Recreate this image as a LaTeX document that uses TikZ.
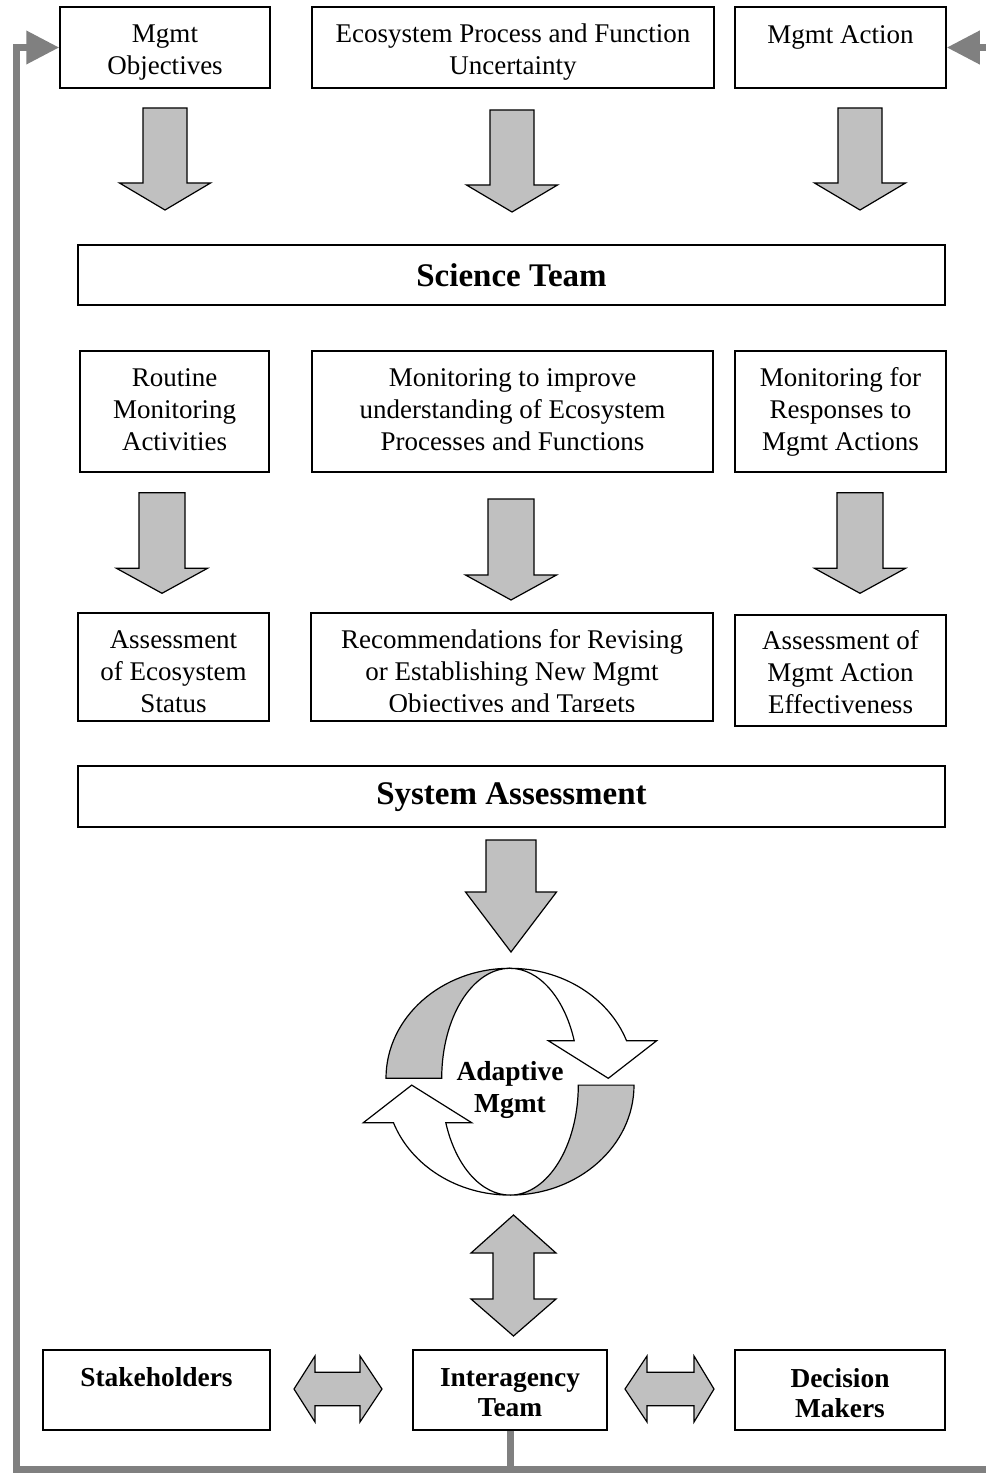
\documentclass[tikz,border=0pt]{standalone}
\usepackage{fontspec}
\setmainfont{Liberation Serif}
\usetikzlibrary{arrows.meta}
\definecolor{arrowfill}{HTML}{C0C0C0}
\definecolor{fbgray}{HTML}{808080}
\newcommand\txtn{\fontsize{27pt}{32pt}\selectfont}
\newcommand\txtb{\fontsize{33pt}{38pt}\selectfont\bfseries}
\newcommand\txtm{\fontsize{27.5pt}{32pt}\selectfont\bfseries}
\newcommand\txtk{\fontsize{27.4pt}{30pt}\selectfont\bfseries}
% cx, top, base, tip, shaft half, head half
\newcommand\blkdown[6]{%
  \draw[blk] ({#1-#5},{-#2}) -- ({#1+#5},{-#2}) -- ({#1+#5},{-#3}) -- ({#1+#6},{-#3}) -- (#1,{-#4}) -- ({#1-#6},{-#3}) -- ({#1-#5},{-#3}) -- cycle;}
% cy, left tip, left base, right base, right tip, shaft half, head half
\newcommand\blkhoriz[7]{%
  \draw[blk] (#2,{-#1}) -- (#3,{-#1+#7}) -- (#3,{-#1+#6}) -- (#4,{-#1+#6}) -- (#4,{-#1+#7}) -- (#5,{-#1}) -- (#4,{-#1-#7}) -- (#4,{-#1-#6}) -- (#3,{-#1-#6}) -- (#3,{-#1-#7}) -- cycle;}
% cx, top tip, upper base, lower base, bottom tip, shaft half, head half
\newcommand\blkvert[7]{%
  \draw[blk] (#1,{-#2}) -- ({#1+#7},{-#3}) -- ({#1+#6},{-#3}) -- ({#1+#6},{-#4}) -- ({#1+#7},{-#4}) -- (#1,{-#5}) -- ({#1-#7},{-#4}) -- ({#1-#6},{-#4}) -- ({#1-#6},{-#3}) -- ({#1-#7},{-#3}) -- cycle;}
\begin{document}
\begin{tikzpicture}[x=1pt,y=1pt,
  box/.style={draw=black, line width=1.5pt, fill=white, inner sep=0pt},
  txt/.style={inner sep=0pt, align=center, font=\txtn},
  btxt/.style={inner sep=0pt, align=center, font=\txtb},
  ktxt/.style={inner sep=0pt, align=center, font=\txtk},
  blk/.style={draw=black, line width=1.2pt, fill=arrowfill, line join=miter},
  wht/.style={draw=black, line width=1.2pt, fill=white},
  fb/.style={draw=fbgray, line width=7pt, -{Triangle[length=33pt,width=32pt]}}]
\useasboundingbox (0,0) rectangle (985,-1474);
\fill[white] (0,0) rectangle (985,-1474);

% top row
\node[box, minimum width=210pt, minimum height=81pt] (obj) at (165,-47.5) {};
\node[txt] (objt) at ([yshift=-5pt]obj.center) {Mgmt\\Objectives};
\node[box, minimum width=402pt, minimum height=81pt] (eco) at (513,-47.5) {};
\node[txt] (ecot) at ([yshift=-5pt]eco.center) {Ecosystem Process and Function\\Uncertainty};
\node[box, minimum width=211pt, minimum height=81pt] (act) at (840.5,-47.5) {};
\node[txt] (actt) at (840.5,-37) {Mgmt Action};

\blkdown{165}{108}{183}{210}{22}{45.5}
\blkdown{512}{110}{185}{212}{22}{45.5}
\blkdown{860}{108}{183}{210}{22}{45.5}

\node[box, minimum width=867pt, minimum height=60pt] (sci) at (511.5,-275) {};
\node[btxt] (scit) at (sci.center) {Science Team};

% second row
\node[box, minimum width=189pt, minimum height=121pt] (rout) at (174.5,-411.5) {};
\node[txt] (routt) at ([yshift=2pt]rout.center) {Routine\\Monitoring\\Activities};
\node[box, minimum width=401pt, minimum height=121pt] (mon) at (512.5,-411.5) {};
\node[txt] (mont) at ([yshift=2pt]mon.center) {Monitoring to improve\\understanding of Ecosystem\\Processes and Functions};
\node[box, minimum width=211pt, minimum height=121pt] (resp) at (840.5,-411.5) {};
\node[txt] (respt) at (resp.center) {Monitoring for\\Responses to\\Mgmt Actions};

\blkdown{162}{492.7}{568.3}{593.3}{23}{45.5}
\blkdown{511}{499}{575}{600}{23}{45.5}
\blkdown{860}{492.7}{568.3}{593.3}{23}{45.5}

% third row
\node[box, minimum width=191pt, minimum height=108pt] (aes) at (173.5,-667) {};
\node[txt] (aest) at ([yshift=-5pt]aes.center) {Assessment\\of Ecosystem\\Status};
\node[box, minimum width=402pt, minimum height=108pt] (rec) at (512,-667) {};
\begin{scope}
  \clip ([yshift=10pt]rec.south west) rectangle (rec.north east);
  \node[txt] (rect) at ([yshift=-6.5pt]rec.center) {Recommendations for Revising\\or Establishing New Mgmt\\Objectives and Targets};
\end{scope}
\node[box, minimum width=211pt, minimum height=111pt] (eff) at (840.5,-670.5) {};
\node[txt] (efft) at ([yshift=-2pt]eff.center) {Assessment of\\Mgmt Action\\Effectiveness};

\node[box, minimum width=867pt, minimum height=61pt] (sys) at (511.5,-796.5) {};
\node[btxt] (syst) at ([yshift=-1pt]sys.center) {System Assessment};

\blkdown{511}{840}{892}{952}{25}{45.5}

% circular arrows (top)
\draw[blk] (386,-1078.3) arc[start angle=180,end angle=90,x radius=124,y radius=110]
  arc[start angle=90,end angle=180,x radius=68.3,y radius=110] -- cycle;
\draw[wht] (510,-968.3) arc[start angle=90,end angle=20,x radius=124,y radius=110]
  -- (656.7,-1040.7) -- (608.3,-1078.3) -- (548.3,-1040.7) -- (574.2,-1040.7)
  arc[start angle=20,end angle=90,x radius=68.3,y radius=110] -- cycle;
% circular arrows (bottom)
\draw[blk] (634,-1085.1) arc[start angle=0,end angle=-90,x radius=124,y radius=110]
  arc[start angle=-90,end angle=0,x radius=68.3,y radius=110] -- cycle;
\draw[wht] (510,-1195.1) arc[start angle=270,end angle=200,x radius=124,y radius=110]
  -- (363.3,-1122.7) -- (411.7,-1085.1) -- (471.7,-1122.7) -- (445.8,-1122.7)
  arc[start angle=200,end angle=270,x radius=68.3,y radius=110] -- cycle;
\node[align=center, font=\txtm] (adm) at (510,-1090) {Adaptive\\Mgmt};

\blkvert{513.5}{1215}{1253}{1299}{1336}{20.5}{42.5}

% bottom row
\node[box, minimum width=227pt, minimum height=80pt] (stk) at (156.5,-1390) {};
\node[ktxt] (stkt) at (156.5,-1377) {Stakeholders};
\node[box, minimum width=194pt, minimum height=80pt] (inter) at (510,-1390) {};
\node[ktxt] (intert) at ([yshift=-3pt]inter.center) {Interagency\\Team};
\node[box, minimum width=210pt, minimum height=80pt] (dec) at (840,-1390) {};
\node[ktxt] (dect) at ([yshift=-3pt]dec.center) {Decision\\Makers};

\blkhoriz{1389}{294}{315}{360}{382}{16.7}{33}
\blkhoriz{1389}{625}{647}{694}{714}{16.7}{33}

% feedback loop
\coordinate (bl) at (16,-1469);
\coordinate (br) at (996,-1469);
\draw[fb] (inter.south) |- (bl) |- (obj.west);
\draw[fb] (inter.south) |- (br) |- (act.east);
\end{tikzpicture}
\end{document}
